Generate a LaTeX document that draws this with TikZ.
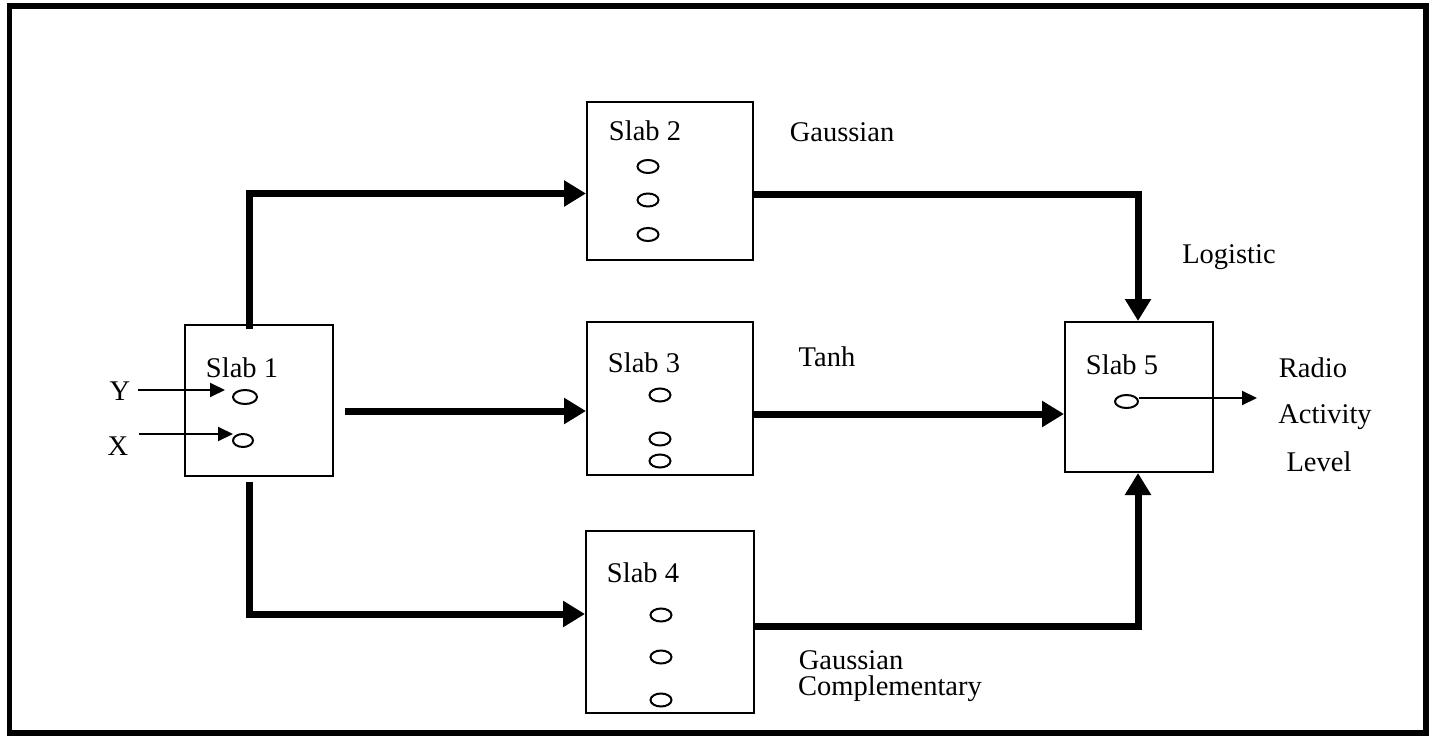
\documentclass[tikz,border=0pt]{standalone}
\usepackage{fontspec}
\setmainfont{Liberation Serif}
\usetikzlibrary{arrows.meta,shapes.geometric}
\begin{document}
\begin{tikzpicture}[x=1pt,y=-1pt,
  unit/.style={draw,ellipse,line width=2pt,minimum width=21pt,minimum height=13pt,inner sep=0pt},
  slabbox/.style={draw,line width=2pt,inner sep=0pt},
  lbl/.style={font=\fontsize{28.5}{34}\selectfont,inner sep=0pt,anchor=base},
  thick link/.style={line width=7pt,-{Triangle[length=22pt,width=25pt]}},
  thin link/.style={line width=2pt,-{Triangle[length=15pt,width=14pt]}}]
\useasboundingbox (0,0) rectangle (1434,738);
\draw[line width=5.5pt] (9.5,6) rectangle (1426,733);

% slabs
\node[slabbox,minimum width=148pt,minimum height=151pt] (s1) at (259,400) {};
\node[slabbox,minimum width=166pt,minimum height=157pt] (s2) at (670,181) {};
\node[slabbox,minimum width=166pt,minimum height=153pt] (s3) at (670,398) {};
\node[slabbox,minimum width=168pt,minimum height=182pt] (s4) at (670,622) {};
\node[slabbox,minimum width=148pt,minimum height=150pt] (s5) at (1139,397) {};

% slab titles
\node[lbl] (t1) at (242,377) {Slab 1};
\node[lbl] (t2) at (645,141) {Slab 2};
\node[lbl] (t3) at (644,372) {Slab 3};
\node[lbl] (t4) at (643,582) {Slab 4};
\node[lbl] (t5) at (1122,374) {Slab 5};

% units
\node[unit,minimum width=24pt,minimum height=14pt] (y1) at (245,397) {};
\node[unit,minimum width=20pt] (x1) at (243,440.5) {};
\node[unit] (a1) at (648,166.5) {};
\node[unit] (a2) at (648,200) {};
\node[unit] (a3) at (648,234.5) {};
\node[unit] (b1) at (660,395) {};
\node[unit] (b2) at (660,439) {};
\node[unit] (b3) at (660,461) {};
\node[unit] (c1) at (661,615) {};
\node[unit] (c2) at (661,657) {};
\node[unit] (c3) at (661,700) {};
\node[unit,minimum width=23pt] (o1) at (1126.5,401.5) {};

% inputs and output
\node[lbl] (ly) at (120,400) {Y};
\node[lbl] (lx) at (118,455) {X};
\coordinate (ys) at (138,390);
\coordinate (ye) at (225,390);
\coordinate (xs) at (139,434);
\coordinate (xe) at (233,434);
\draw[thin link] (ys) -- (ye);
\draw[thin link] (xs) -- (xe);
\coordinate (oe) at (1257,398);
\draw[thin link] (o1.east |- oe) -- (oe);

% transfer function labels
\node[lbl] (g) at (842,142) {Gaussian};
\node[lbl] (lg) at (1229,263) {Logistic};
\node[lbl] (th) at (827,366) {Tanh};
\node[lbl] (r1) at (1313,377) {Radio};
\node[lbl] (r2) at (1325,423) {Activity};
\node[lbl] (r3) at (1319,471) {Level};
\node[lbl] (gc1) at (851,669) {Gaussian};
\node[lbl] (gc2) at (890,695) {Complementary};

% thick connections
\coordinate (k0) at (249.5,329);
\coordinate (k1) at (249.5,193.5);
\coordinate (m0) at (345,411);
\coordinate (n0) at (249.5,482);
\coordinate (k2) at (249.5,614);
\coordinate (k3) at (1138,195);
\coordinate (m1) at (755,414);
\coordinate (k4) at (1138,626);
\draw[thick link] (k0) -- (k1) -- (s2.west |- k1);
\draw[thick link] (m0) -- (s3.west |- m0);
\draw[thick link] (n0) -- (k2) -- (s4.west |- k2);
\draw[thick link] (s2.east |- k3) -- (k3) -- (s5.north -| k3);
\draw[thick link] (s3.east |- m1) -- (s5.west |- m1);
\draw[thick link] (s4.east |- k4) -- (k4) -- (s5.south -| k4);
\end{tikzpicture}
\end{document}
